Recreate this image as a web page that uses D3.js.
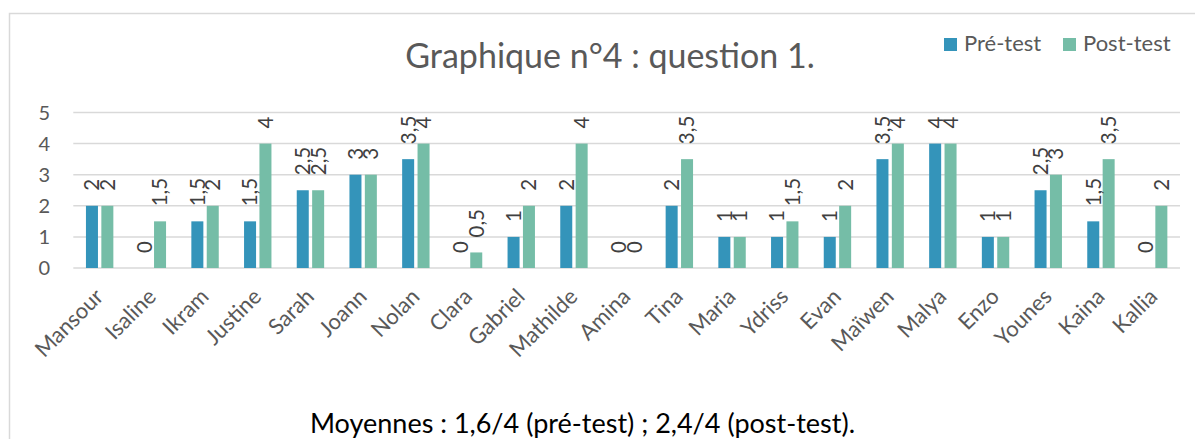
<!DOCTYPE html>
<html>
<head>
<meta charset="utf-8">
<script src="https://cdn.jsdelivr.net/npm/d3@7"></script>
<style>
  body { margin: 0; background: #fff; }
  text { font-family: Lato, "Noto Sans", sans-serif; }
</style>
</head>
<body>
<svg id="chart" width="1195" height="439"></svg>
<script>
// data
var eleves = ["Mansour","Isaline","Ikram","Justine","Sarah","Joann","Nolan","Clara","Gabriel","Mathilde","Amina","Tina","Maria","Ydriss","Evan","Maïwen","Malya","Enzo","Younes","Kaina","Kallia"];
var preTest  = [2, 0, 1.5, 1.5, 2.5, 3, 3.5, 0, 1, 2, 0, 2, 1, 1, 1, 3.5, 4, 1, 2.5, 1.5, 0];
var postTest = [2, 1.5, 2, 4, 2.5, 3, 4, 0.5, 2, 4, 0, 3.5, 1, 1.5, 2, 4, 4, 1, 3, 3.5, 2];
var yTicks = [0, 1, 2, 3, 4, 5];
var seriesNames = ["Pré-test", "Post-test"];
var colors = ["#3494BA", "#75BDA7"];

var svg = d3.select("#chart");

// chart frame
svg.append("rect")
  .attr("x", 9.5).attr("y", 13.5)
  .attr("width", 1210).attr("height", 440)
  .attr("fill", "#fff")
  .attr("stroke", "#d9d9d9")
  .attr("stroke-width", 1.5);

var x = d3.scaleBand().domain(eleves).range([73.3, 1180]).padding(0);
var xs = d3.scaleBand().domain([0, 1]).range([-13.7, 13.7]).paddingInner(0.22);
var y = d3.scaleLinear().domain([0, 5]).range([268, 112.5]);

// gridlines
svg.append("g")
  .selectAll("line")
  .data(yTicks)
  .join("line")
  .attr("x1", 73.3).attr("x2", 1180)
  .attr("y1", d => y(d)).attr("y2", d => y(d))
  .attr("stroke", "#d9d9d9")
  .attr("stroke-width", 1.5);

// y axis labels
svg.append("g")
  .selectAll("text")
  .data(yTicks)
  .join("text")
  .attr("x", 50).attr("y", d => y(d))
  .attr("dy", "0.36em")
  .attr("text-anchor", "end")
  .attr("font-size", 20)
  .attr("fill", "#595959")
  .text(d => d);

var rows = eleves.map((n, i) => ({ name: n, vals: [preTest[i], postTest[i]] }));
var fmt = v => String(v).replace(".", ",");

var groups = svg.append("g")
  .selectAll("g")
  .data(rows)
  .join("g")
  .attr("transform", d => "translate(" + (x(d.name) + x.bandwidth() / 2) + ",0)");

groups.selectAll("rect")
  .data(d => d.vals)
  .join("rect")
  .attr("x", (v, i) => xs(i))
  .attr("width", xs.bandwidth())
  .attr("y", v => y(v))
  .attr("height", v => y(0) - y(v))
  .attr("fill", (v, i) => colors[i]);

// value labels, vertical
groups.selectAll("text")
  .data(d => d.vals)
  .join("text")
  .attr("transform", (v, i) => "translate(" + (xs(i) + xs.bandwidth() / 2) + "," + (y(v) - 15) + ") rotate(-90)")
  .attr("dy", "0.36em")
  .attr("text-anchor", "start")
  .attr("font-size", 20.5)
  .attr("fill", "#404040")
  .text(v => fmt(v));

// x axis labels
svg.append("g")
  .selectAll("text")
  .data(eleves)
  .join("text")
  .attr("transform", d => "translate(" + (x(d) + x.bandwidth() / 2 + 5) + ",298) rotate(-45)")
  .attr("text-anchor", "end")
  .attr("font-size", 22)
  .attr("fill", "#595959")
  .text(d => d);

// title
svg.append("text")
  .attr("x", 610).attr("y", 68)
  .attr("text-anchor", "middle")
  .attr("font-size", 34)
  .attr("fill", "#595959")
  .text("Graphique n°4 : question 1.");

// legend
var leg = svg.append("g")
  .selectAll("g")
  .data(seriesNames)
  .join("g")
  .attr("transform", (d, i) => "translate(" + [944, 1063][i] + ",38)");
leg.append("rect")
  .attr("width", 13).attr("height", 13)
  .attr("fill", (d, i) => colors[i]);
leg.append("text")
  .attr("x", 20).attr("y", 13)
  .attr("font-size", 22)
  .attr("fill", "#595959")
  .text(d => d);

// subtitle
svg.append("text")
  .attr("x", 582.5).attr("y", 433)
  .attr("text-anchor", "middle")
  .attr("font-size", 27)
  .attr("fill", "#000")
  .text("Moyennes : 1,6/4 (pré-test) ; 2,4/4 (post-test).");
</script>
</body>
</html>
